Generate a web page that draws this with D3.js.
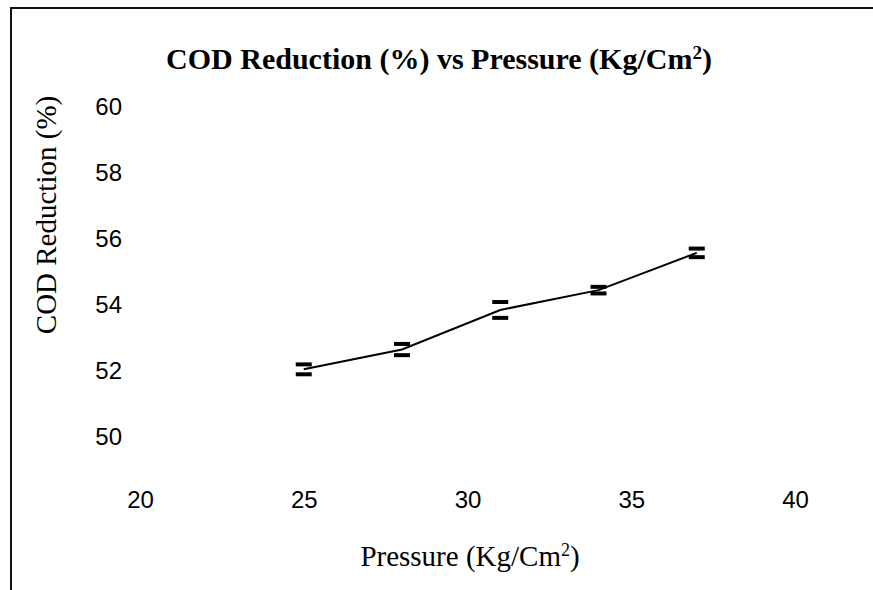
<!DOCTYPE html>
<html>
<head>
<meta charset="utf-8">
<script src="https://cdn.jsdelivr.net/npm/d3@7"></script>
<style>
body{margin:0;background:#fff}
svg{display:block}
</style>
</head>
<body>
<svg></svg>
<script>
// pressure (Kg/Cm2) and COD reduction (%)
var pressure = [25, 28, 31, 34, 37]
var codReduction = [52.05, 52.65, 53.85, 54.45, 55.58]
var errBar = [0.15, 0.17, 0.24, 0.1, 0.13]
var xTicks = [20, 25, 30, 35, 40]
var yTicks = [50, 52, 54, 56, 58, 60]

var screen = {width:873,height:590}

var svg = d3.select("svg")
    .attr("width",screen.width)
    .attr("height",screen.height)

// outer frame (cropped at right and bottom)
svg.append("path")
    .attr("d","M11,600 L11,8 L880,8")
    .attr("fill","none")
    .attr("stroke","#111")
    .attr("stroke-width",2)

var xScale = d3.scaleLinear()
    .domain([20,40])
    .range([140,795])

var yScale = d3.scaleLinear()
    .domain([50,60])
    .range([437,107])

var xAxis = d3.axisBottom(xScale)
    .tickValues(xTicks)
    .tickSize(0)
    .tickPadding(0)

var yAxis = d3.axisLeft(yScale)
    .tickValues(yTicks)
    .tickSize(0)
    .tickPadding(0)

var gx = svg.append("g")
    .attr("transform","translate(0,491)")
    .call(xAxis)
gx.select(".domain").remove()
gx.selectAll("text")
    .attr("font-family","'Liberation Sans', Arial, sans-serif")
    .attr("font-size",24)
    .attr("fill","#000")

var gy = svg.append("g")
    .attr("transform","translate(122,0)")
    .call(yAxis)
gy.select(".domain").remove()
gy.selectAll("text")
    .attr("font-family","'Liberation Sans', Arial, sans-serif")
    .attr("font-size",24)
    .attr("fill","#000")

var pts = pressure.map(function(p,i){
    return {x:p, y:codReduction[i], e:errBar[i]}
})

var lineGenerator = d3.line()
    .x(function(d){return xScale(d.x)})
    .y(function(d){return yScale(d.y)})

svg.append("path")
    .datum(pts)
    .attr("d",lineGenerator)
    .attr("fill","none")
    .attr("stroke","#000")
    .attr("stroke-width",2)

// error bar caps
var caps = svg.append("g")
    .attr("stroke","#000")
    .attr("stroke-width",4)
pts.forEach(function(d){
    [d.y-d.e, d.y+d.e].forEach(function(v){
        caps.append("line")
            .attr("x1",xScale(d.x)-8)
            .attr("x2",xScale(d.x)+8)
            .attr("y1",yScale(v))
            .attr("y2",yScale(v))
    })
})

var serif = "'Liberation Serif', 'Times New Roman', serif"

var title = svg.append("text")
    .attr("x",439)
    .attr("y",69)
    .attr("text-anchor","middle")
    .attr("font-family",serif)
    .attr("font-weight","bold")
    .attr("font-size",30)
title.append("tspan").text("COD Reduction (%) vs Pressure (Kg/Cm")
title.append("tspan").text("2").attr("font-size",19).attr("dy",-10)
title.append("tspan").text(")").attr("dy",10)

var xt = svg.append("text")
    .attr("x",470)
    .attr("y",566)
    .attr("text-anchor","middle")
    .attr("font-family",serif)
    .attr("font-size",29)
xt.append("tspan").text("Pressure (Kg/Cm")
xt.append("tspan").text("2").attr("font-size",18).attr("dy",-10)
xt.append("tspan").text(")").attr("dy",10)

svg.append("text")
    .attr("transform","translate(46,215) rotate(-90)")
    .attr("text-anchor","middle")
    .attr("dy","0.35em")
    .attr("font-family",serif)
    .attr("font-size",29)
    .text("COD Reduction (%)")
</script>
</body>
</html>
